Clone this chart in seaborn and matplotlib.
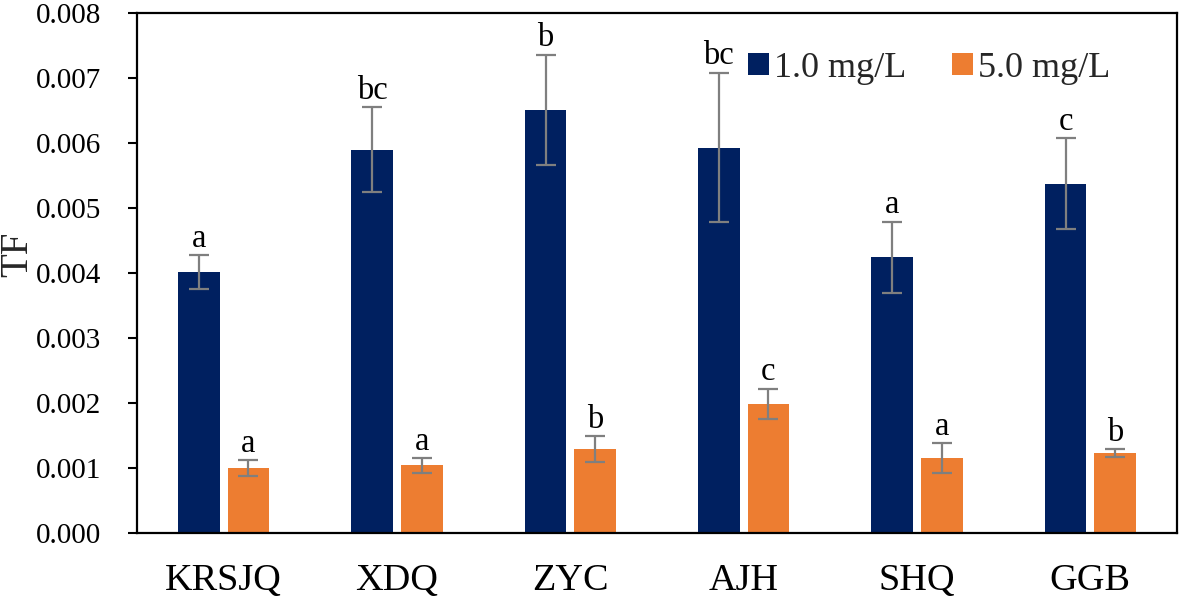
import numpy as np
import pandas as pd
import matplotlib
matplotlib.use("Agg")
import matplotlib.pyplot as plt
import seaborn as sns

categories = ["KRSJQ", "XDQ", "ZYC", "AJH", "SHQ", "GGB"]
series_names = ["1.0 mg/L", "5.0 mg/L"]
tf_low = [0.00401, 0.00590, 0.00651, 0.00593, 0.00424, 0.00537]
tf_high = [0.00100, 0.00104, 0.00129, 0.00199, 0.00115, 0.00123]
err_low = [0.00026, 0.00065, 0.00085, 0.00115, 0.00055, 0.00070]
err_high = [0.00012, 0.00011, 0.00020, 0.00023, 0.00023, 0.00006]
letters_low = ["a", "bc", "b", "bc", "a", "c"]
letters_high = ["a", "a", "b", "c", "a", "b"]
y_ticks = [0.000, 0.001, 0.002, 0.003, 0.004, 0.005, 0.006, 0.007, 0.008]

colors = ["#002060", "#ED7D31"]

df = pd.DataFrame({
    "site": categories * 2,
    "conc": [series_names[0]] * len(categories) + [series_names[1]] * len(categories),
    "TF": tf_low + tf_high,
})

sns.set_theme(style="white")
FONT = ["Liberation Serif", "DejaVu Serif"]
plt.rcParams["font.family"] = FONT

fig = plt.figure(figsize=(11.81, 6.01), dpi=100)
ax = fig.add_axes([137 / 1181, 1 - 533 / 601, 1040 / 1181, 520 / 601])

sns.barplot(data=df, x="site", y="TF", hue="conc", order=categories,
            hue_order=series_names, palette=colors, errorbar=None,
            width=0.572, gap=0.16, saturation=1, ax=ax, linewidth=0)

errs = [err_low, err_high]
vals = [tf_low, tf_high]
lets = [letters_low, letters_high]
bar_containers = list(ax.containers)
for ci, cont in enumerate(bar_containers):
    for bi, patch in enumerate(cont.patches):
        xc = patch.get_x() + patch.get_width() / 2
        v = vals[ci][bi]
        e = errs[ci][bi]
        ax.errorbar(xc, v, yerr=e, fmt="none", ecolor="#7f7f7f",
                    elinewidth=1.6, capsize=7, capthick=1.6, zorder=3)
        ax.annotate(lets[ci][bi], (xc, v + e), xytext=(0, 6),
                    textcoords="offset points", ha="center", va="baseline",
                    fontsize=23.5, color="black", family=FONT)

ax.set_ylim(0, 0.008)
ax.set_xlim(-0.5, 5.5)
ax.set_yticks(y_ticks)
ax.set_yticklabels([f"{t:.3f}" for t in y_ticks], family=FONT, fontsize=21)
ax.set_xticks(range(len(categories)))
ax.set_xticklabels(categories, family=FONT, fontsize=27.5)
ax.set_xlabel("")
ax.set_ylabel("TF", fontsize=28, family=FONT)
ax.yaxis.set_label_coords(-0.097, 0.535)
ax.tick_params(axis="y", which="major", direction="out", length=6.5, width=1.5,
               color="black", pad=19, left=True, labelcolor="black")
ax.tick_params(axis="x", length=0, pad=22, labelcolor="black")
for sp in ax.spines.values():
    sp.set_visible(True)
    sp.set_color("black")
    sp.set_linewidth(1.6)

handles, labels = ax.get_legend_handles_labels()
ax.legend(handles, labels, ncol=2, frameon=False,
          prop={"family": FONT, "size": 26},
          handlelength=0.58, handleheight=0.58, handletextpad=0.15,
          columnspacing=1.25, loc="upper left",
          bbox_to_anchor=(748 / 1181, 1 - 52 / 601),
          bbox_transform=fig.transFigure, borderpad=0, borderaxespad=0)

fig.savefig("out.png", dpi=100)
